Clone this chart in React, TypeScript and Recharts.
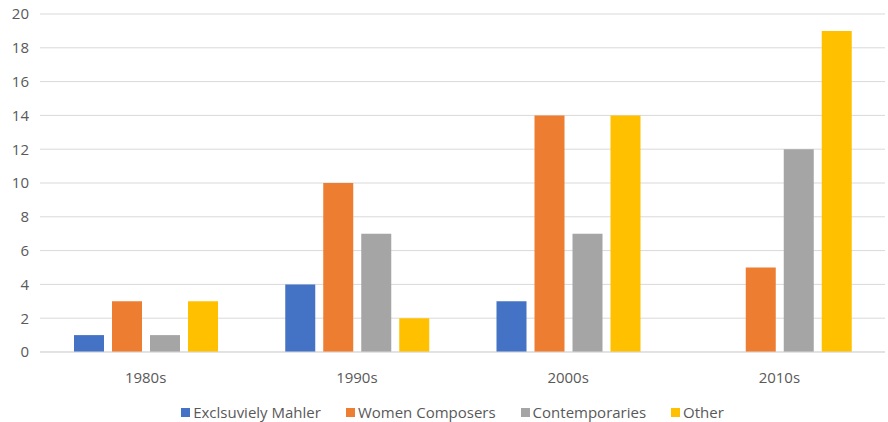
import { BarChart, Bar, XAxis, YAxis, CartesianGrid, Legend } from "recharts";

const decades = ["1980s", "1990s", "2000s", "2010s"];
const mahler = [1, 4, 3, 0];
const women = [3, 10, 14, 5];
const contemporaries = [1, 7, 7, 12];
const other = [3, 2, 14, 19];
const yTicks = [0, 2, 4, 6, 8, 10, 12, 14, 16, 18, 20];

const series = [
  { key: "mahler", name: "Exclsuviely Mahler", color: "#4472C4" },
  { key: "women", name: "Women Composers", color: "#ED7D31" },
  { key: "contemporaries", name: "Contemporaries", color: "#A5A5A5" },
  { key: "other", name: "Other", color: "#FFC000" },
];

const data = decades.map((d, i) => ({
  decade: d,
  mahler: mahler[i],
  women: women[i],
  contemporaries: contemporaries[i],
  other: other[i],
}));

const FONT = "'Open Sans', sans-serif";
const TEXT = "#595959";

// fixed order legend (recharts sorts by name otherwise)
const LegendContent = () => (
  <div
    style={{
      display: "flex",
      justifyContent: "center",
      gap: 25,
      paddingTop: 10,
      paddingLeft: 20,
      fontSize: 15,
      color: TEXT,
      fontFamily: FONT,
    }}
  >
    {series.map((s) => (
      <div key={s.key} style={{ display: "flex", alignItems: "center" }}>
        <span style={{ width: 9, height: 9, background: s.color, marginRight: 3, display: "inline-block" }} />
        <span>{s.name}</span>
      </div>
    ))}
  </div>
);

export default function App() {
  return (
    <div style={{ position: "absolute", left: 0, top: 0, background: "#fff" }}>
      <BarChart
        width={888}
        height={422}
        data={data}
        margin={{ top: 14, right: 3, left: 0, bottom: 0 }}
        barSize={30}
        barGap={8}
        style={{ fontFamily: FONT }}
      >
        <CartesianGrid vertical={false} stroke="#d9d9d9" />
        <XAxis
          dataKey="decade"
          height={40}
          tickLine={false}
          axisLine={{ stroke: "#d9d9d9" }}
          tick={{ fill: TEXT, fontSize: 15 }}
          tickMargin={14}
        />
        <YAxis
          width={40}
          domain={[0, 20]}
          ticks={yTicks}
          tickLine={false}
          axisLine={false}
          tick={{ fill: TEXT, fontSize: 15 }}
          tickMargin={5}
        />
        <Legend height={30} content={LegendContent} />
        {series.map((s) => (
          <Bar key={s.key} dataKey={s.key} name={s.name} fill={s.color} isAnimationActive={false} />
        ))}
      </BarChart>
    </div>
  );
}
